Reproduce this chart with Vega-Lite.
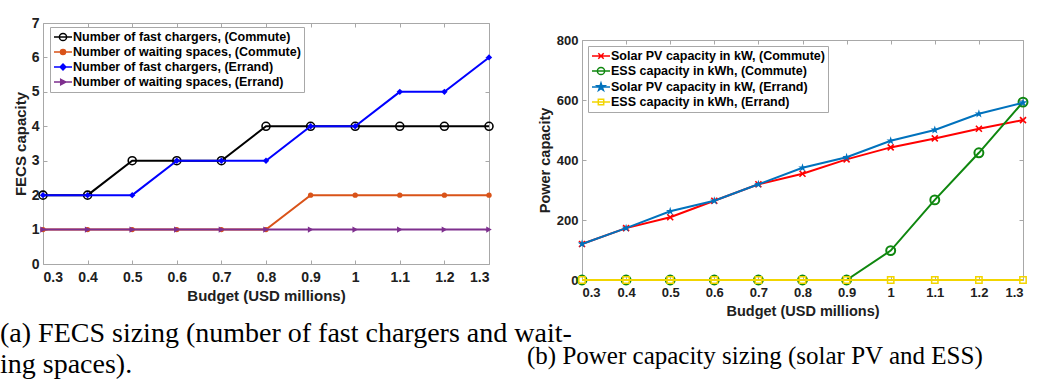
{
  "$schema": "https://vega.github.io/schema/vega-lite/v6.json",
  "background": "white",
  "padding": {"left": 0, "top": 16, "right": 0, "bottom": 0},
  "bounds": "flush",
  "spacing": 93,
  "resolve": {"scale": {"color": "independent"}, "legend": {"color": "independent"}},
  "config": {
    "view": {"stroke": null},
    "axis": {
      "grid": false,
      "domainColor": "#A8A8A8",
      "tickColor": "#A8A8A8",
      "domainWidth": 1,
      "tickWidth": 1,
      "tickSize": -4,
      "labelFont": "Liberation Sans",
      "labelFontWeight": "bold",
      "labelColor": "#202020",
      "titleFont": "Liberation Sans",
      "titleFontWeight": "bold",
      "titleColor": "#202020"
    },
    "legend": {
      "orient": "none",
      "labelFont": "Liberation Sans",
      "labelFontSize": 12.5,
      "labelFontWeight": "bold",
      "labelColor": "#000000",
      "labelLimit": 0,
      "strokeColor": "#A8A8A8",
      "fillColor": "white",
      "padding": 3,
      "rowPadding": 1,
      "symbolSize": 144,
      "symbolOffset": 3,
      "symbolStrokeWidth": 1.5,
      "labelOffset": 3,
      "title": null
    }
  },
  "hconcat": [
    {
      "width": 446,
      "height": 241,
      "title": {
        "text": ["(a) FECS sizing (number of fast chargers and wait-", "ing spaces)."],
        "orient": "bottom", "anchor": "start", "frame": "group", "dx": -43, "offset": 17,
        "font": "Liberation Serif", "fontSize": 28, "fontWeight": "normal", "lineHeight": 31, "color": "#000000", "baseline": "top"
      },
      "data": {"values": [
        {"b": 0.3, "v": 2, "s": "Number of fast chargers, (Commute)"},
        {"b": 0.4, "v": 2, "s": "Number of fast chargers, (Commute)"},
        {"b": 0.5, "v": 3, "s": "Number of fast chargers, (Commute)"},
        {"b": 0.6, "v": 3, "s": "Number of fast chargers, (Commute)"},
        {"b": 0.7, "v": 3, "s": "Number of fast chargers, (Commute)"},
        {"b": 0.8, "v": 4, "s": "Number of fast chargers, (Commute)"},
        {"b": 0.9, "v": 4, "s": "Number of fast chargers, (Commute)"},
        {"b": 1.0, "v": 4, "s": "Number of fast chargers, (Commute)"},
        {"b": 1.1, "v": 4, "s": "Number of fast chargers, (Commute)"},
        {"b": 1.2, "v": 4, "s": "Number of fast chargers, (Commute)"},
        {"b": 1.3, "v": 4, "s": "Number of fast chargers, (Commute)"},
        {"b": 0.3, "v": 1, "s": "Number of waiting spaces, (Commute)"},
        {"b": 0.4, "v": 1, "s": "Number of waiting spaces, (Commute)"},
        {"b": 0.5, "v": 1, "s": "Number of waiting spaces, (Commute)"},
        {"b": 0.6, "v": 1, "s": "Number of waiting spaces, (Commute)"},
        {"b": 0.7, "v": 1, "s": "Number of waiting spaces, (Commute)"},
        {"b": 0.8, "v": 1, "s": "Number of waiting spaces, (Commute)"},
        {"b": 0.9, "v": 2, "s": "Number of waiting spaces, (Commute)"},
        {"b": 1.0, "v": 2, "s": "Number of waiting spaces, (Commute)"},
        {"b": 1.1, "v": 2, "s": "Number of waiting spaces, (Commute)"},
        {"b": 1.2, "v": 2, "s": "Number of waiting spaces, (Commute)"},
        {"b": 1.3, "v": 2, "s": "Number of waiting spaces, (Commute)"},
        {"b": 0.3, "v": 2, "s": "Number of fast chargers, (Errand)"},
        {"b": 0.4, "v": 2, "s": "Number of fast chargers, (Errand)"},
        {"b": 0.5, "v": 2, "s": "Number of fast chargers, (Errand)"},
        {"b": 0.6, "v": 3, "s": "Number of fast chargers, (Errand)"},
        {"b": 0.7, "v": 3, "s": "Number of fast chargers, (Errand)"},
        {"b": 0.8, "v": 3, "s": "Number of fast chargers, (Errand)"},
        {"b": 0.9, "v": 4, "s": "Number of fast chargers, (Errand)"},
        {"b": 1.0, "v": 4, "s": "Number of fast chargers, (Errand)"},
        {"b": 1.1, "v": 5, "s": "Number of fast chargers, (Errand)"},
        {"b": 1.2, "v": 5, "s": "Number of fast chargers, (Errand)"},
        {"b": 1.3, "v": 6, "s": "Number of fast chargers, (Errand)"},
        {"b": 0.3, "v": 1, "s": "Number of waiting spaces, (Errand)"},
        {"b": 0.4, "v": 1, "s": "Number of waiting spaces, (Errand)"},
        {"b": 0.5, "v": 1, "s": "Number of waiting spaces, (Errand)"},
        {"b": 0.6, "v": 1, "s": "Number of waiting spaces, (Errand)"},
        {"b": 0.7, "v": 1, "s": "Number of waiting spaces, (Errand)"},
        {"b": 0.8, "v": 1, "s": "Number of waiting spaces, (Errand)"},
        {"b": 0.9, "v": 1, "s": "Number of waiting spaces, (Errand)"},
        {"b": 1.0, "v": 1, "s": "Number of waiting spaces, (Errand)"},
        {"b": 1.1, "v": 1, "s": "Number of waiting spaces, (Errand)"},
        {"b": 1.2, "v": 1, "s": "Number of waiting spaces, (Errand)"},
        {"b": 1.3, "v": 1, "s": "Number of waiting spaces, (Errand)"}
      ]},
      "layer": [
        {
          "transform": [{"filter": "datum.s === 'Number of fast chargers, (Commute)'"}],
          "mark": {"type": "line", "strokeWidth": 2},
          "encoding": {
            "x": {"field": "b", "type": "quantitative", "scale": {"domain": [0.3, 1.3], "nice": false, "zero": false},
              "axis": {"orient": "bottom", "values": [0.3, 0.4, 0.5, 0.6, 0.7, 0.8, 0.9, 1.0, 1.1, 1.2, 1.3], "format": "~g", "title": "Budget (USD millions)", "labelFontSize": 14, "titleFontSize": 15, "labelPadding": 10, "titlePadding": 4}},
            "y": {"field": "v", "type": "quantitative", "scale": {"domain": [0, 7], "nice": false},
              "axis": {"orient": "left", "values": [0, 1, 2, 3, 4, 5, 6, 7], "format": "d", "title": "FECS capacity", "labelFontSize": 14, "titleFontSize": 15, "labelPadding": 8, "titlePadding": 3}},
            "color": {"field": "s", "type": "nominal",
              "scale": {"domain": ["Number of fast chargers, (Commute)", "Number of waiting spaces, (Commute)", "Number of fast chargers, (Errand)", "Number of waiting spaces, (Errand)"], "range": ["#000000", "#D95319", "#0000FF", "#7E2F8E"]},
              "legend": {"legendX": 7, "legendY": 4,
                "encode": {"symbols": {"update": {
                  "shape": {"signal": "datum.value === 'Number of fast chargers, (Commute)' ? 'M-1.5,0H1.5M0.6,0A0.6,0.6 0 1,1 -0.6,0A0.6,0.6 0 1,1 0.6,0' : datum.value === 'Number of waiting spaces, (Commute)' ? 'M-1.5,0H1.5M0.42,0A0.42,0.42 0 1,1 -0.42,0A0.42,0.42 0 1,1 0.42,0' : datum.value === 'Number of fast chargers, (Errand)' ? 'M-1.5,0H1.5M0,-0.48L0.48,0L0,0.48L-0.48,0Z' : 'M-1.5,0H1.5M-0.38,-0.45L0.48,0L-0.38,0.45Z'"},
                  "fill": {"signal": "datum.value === 'Number of fast chargers, (Commute)' ? 'transparent' : datum.value === 'Number of waiting spaces, (Commute)' ? '#D95319' : datum.value === 'Number of fast chargers, (Errand)' ? '#0000FF' : '#7E2F8E'"}
                }}}}}
          }
        },
        {
          "transform": [{"filter": "datum.s === 'Number of fast chargers, (Commute)'"}],
          "mark": {"type": "point", "shape": "circle", "size": 64, "filled": false, "color": "#000000", "strokeWidth": 1.6, "opacity": 1},
          "encoding": {
            "x": {"field": "b", "type": "quantitative", "axis": {"orient": "top", "labels": false, "title": null, "values": [0.3, 0.4, 0.5, 0.6, 0.7, 0.8, 0.9, 1.0, 1.1, 1.2, 1.3]}},
            "y": {"field": "v", "type": "quantitative", "axis": {"orient": "right", "labels": false, "title": null, "values": [0, 1, 2, 3, 4, 5, 6, 7]}}
          }
        },
        {
          "transform": [{"filter": "datum.s === 'Number of waiting spaces, (Commute)'"}],
          "mark": {"type": "line", "strokeWidth": 2},
          "encoding": {
            "x": {"field": "b", "type": "quantitative", "axis": null},
            "y": {"field": "v", "type": "quantitative", "axis": null},
            "color": {"field": "s", "type": "nominal"}
          }
        },
        {
          "transform": [{"filter": "datum.s === 'Number of waiting spaces, (Commute)'"}],
          "mark": {"type": "point", "shape": "circle", "size": 28, "filled": true, "color": "#D95319", "opacity": 1},
          "encoding": {
            "x": {"field": "b", "type": "quantitative", "axis": null},
            "y": {"field": "v", "type": "quantitative", "axis": null}
          }
        },
        {
          "transform": [{"filter": "datum.s === 'Number of fast chargers, (Errand)'"}],
          "mark": {"type": "line", "strokeWidth": 2},
          "encoding": {
            "x": {"field": "b", "type": "quantitative", "axis": null},
            "y": {"field": "v", "type": "quantitative", "axis": null},
            "color": {"field": "s", "type": "nominal"}
          }
        },
        {
          "transform": [{"filter": "datum.s === 'Number of fast chargers, (Errand)'"}],
          "mark": {"type": "point", "shape": "diamond", "size": 40, "filled": true, "color": "#0000FF", "opacity": 1},
          "encoding": {
            "x": {"field": "b", "type": "quantitative", "axis": null},
            "y": {"field": "v", "type": "quantitative", "axis": null}
          }
        },
        {
          "transform": [{"filter": "datum.s === 'Number of waiting spaces, (Errand)'"}],
          "mark": {"type": "line", "strokeWidth": 2},
          "encoding": {
            "x": {"field": "b", "type": "quantitative", "axis": null},
            "y": {"field": "v", "type": "quantitative", "axis": null},
            "color": {"field": "s", "type": "nominal"}
          }
        },
        {
          "transform": [{"filter": "datum.s === 'Number of waiting spaces, (Errand)'"}],
          "mark": {"type": "point", "shape": "triangle-right", "size": 40, "filled": true, "color": "#7E2F8E", "opacity": 1},
          "encoding": {
            "x": {"field": "b", "type": "quantitative", "axis": null},
            "y": {"field": "v", "type": "quantitative", "axis": null}
          }
        }
      ]
    },
    {
      "width": 441,
      "height": 257,
      "title": {
        "text": "(b) Power capacity sizing (solar PV and ESS)",
        "orient": "bottom", "anchor": "start", "frame": "group", "dx": -55, "offset": 26,
        "font": "Liberation Serif", "fontSize": 25, "fontWeight": "normal", "color": "#000000", "baseline": "top"
      },
      "data": {"values": [
        {"b": 0.3, "v": 120, "s": "Solar PV capacity in kW, (Commute)"},
        {"b": 0.4, "v": 173, "s": "Solar PV capacity in kW, (Commute)"},
        {"b": 0.5, "v": 209, "s": "Solar PV capacity in kW, (Commute)"},
        {"b": 0.6, "v": 264, "s": "Solar PV capacity in kW, (Commute)"},
        {"b": 0.7, "v": 319, "s": "Solar PV capacity in kW, (Commute)"},
        {"b": 0.8, "v": 354, "s": "Solar PV capacity in kW, (Commute)"},
        {"b": 0.9, "v": 402, "s": "Solar PV capacity in kW, (Commute)"},
        {"b": 1.0, "v": 442, "s": "Solar PV capacity in kW, (Commute)"},
        {"b": 1.1, "v": 472, "s": "Solar PV capacity in kW, (Commute)"},
        {"b": 1.2, "v": 504, "s": "Solar PV capacity in kW, (Commute)"},
        {"b": 1.3, "v": 533, "s": "Solar PV capacity in kW, (Commute)"},
        {"b": 0.3, "v": 0, "s": "ESS capacity in kWh, (Commute)"},
        {"b": 0.4, "v": 0, "s": "ESS capacity in kWh, (Commute)"},
        {"b": 0.5, "v": 0, "s": "ESS capacity in kWh, (Commute)"},
        {"b": 0.6, "v": 0, "s": "ESS capacity in kWh, (Commute)"},
        {"b": 0.7, "v": 0, "s": "ESS capacity in kWh, (Commute)"},
        {"b": 0.8, "v": 0, "s": "ESS capacity in kWh, (Commute)"},
        {"b": 0.9, "v": 0, "s": "ESS capacity in kWh, (Commute)"},
        {"b": 1.0, "v": 98, "s": "ESS capacity in kWh, (Commute)"},
        {"b": 1.1, "v": 267, "s": "ESS capacity in kWh, (Commute)"},
        {"b": 1.2, "v": 424, "s": "ESS capacity in kWh, (Commute)"},
        {"b": 1.3, "v": 593, "s": "ESS capacity in kWh, (Commute)"},
        {"b": 0.3, "v": 120, "s": "Solar PV capacity in kW, (Errand)"},
        {"b": 0.4, "v": 173, "s": "Solar PV capacity in kW, (Errand)"},
        {"b": 0.5, "v": 229, "s": "Solar PV capacity in kW, (Errand)"},
        {"b": 0.6, "v": 264, "s": "Solar PV capacity in kW, (Errand)"},
        {"b": 0.7, "v": 319, "s": "Solar PV capacity in kW, (Errand)"},
        {"b": 0.8, "v": 374, "s": "Solar PV capacity in kW, (Errand)"},
        {"b": 0.9, "v": 409, "s": "Solar PV capacity in kW, (Errand)"},
        {"b": 1.0, "v": 464, "s": "Solar PV capacity in kW, (Errand)"},
        {"b": 1.1, "v": 500, "s": "Solar PV capacity in kW, (Errand)"},
        {"b": 1.2, "v": 554, "s": "Solar PV capacity in kW, (Errand)"},
        {"b": 1.3, "v": 591, "s": "Solar PV capacity in kW, (Errand)"},
        {"b": 0.3, "v": 0, "s": "ESS capacity in kWh, (Errand)"},
        {"b": 0.4, "v": 0, "s": "ESS capacity in kWh, (Errand)"},
        {"b": 0.5, "v": 0, "s": "ESS capacity in kWh, (Errand)"},
        {"b": 0.6, "v": 0, "s": "ESS capacity in kWh, (Errand)"},
        {"b": 0.7, "v": 0, "s": "ESS capacity in kWh, (Errand)"},
        {"b": 0.8, "v": 0, "s": "ESS capacity in kWh, (Errand)"},
        {"b": 0.9, "v": 0, "s": "ESS capacity in kWh, (Errand)"},
        {"b": 1.0, "v": 0, "s": "ESS capacity in kWh, (Errand)"},
        {"b": 1.1, "v": 0, "s": "ESS capacity in kWh, (Errand)"},
        {"b": 1.2, "v": 0, "s": "ESS capacity in kWh, (Errand)"},
        {"b": 1.3, "v": 0, "s": "ESS capacity in kWh, (Errand)"}
      ]},
      "layer": [
        {
          "transform": [{"filter": "datum.s === 'Solar PV capacity in kW, (Commute)'"}],
          "mark": {"type": "line", "strokeWidth": 2},
          "encoding": {
            "x": {"field": "b", "type": "quantitative", "scale": {"domain": [0.3, 1.3], "nice": false, "zero": false},
              "axis": {"orient": "bottom", "values": [0.3, 0.4, 0.5, 0.6, 0.7, 0.8, 0.9, 1.0, 1.1, 1.2, 1.3], "format": "~g", "title": "Budget (USD millions)", "labelFontSize": 13, "titleFontSize": 14.5, "labelPadding": 10, "titlePadding": 5}},
            "y": {"field": "v", "type": "quantitative", "scale": {"domain": [0, 800], "nice": false, "range": [257, 17]},
              "axis": {"orient": "left", "values": [0, 200, 400, 600, 800], "format": "d", "title": "Power capacity", "labelFontSize": 13, "titleFontSize": 14.5, "labelPadding": 8, "titlePadding": 4}},
            "color": {"field": "s", "type": "nominal",
              "scale": {"domain": ["Solar PV capacity in kW, (Commute)", "ESS capacity in kWh, (Commute)", "Solar PV capacity in kW, (Errand)", "ESS capacity in kWh, (Errand)"], "range": ["#FF0000", "#0F870F", "#0072BD", "#F2D500"]},
              "legend": {"legendX": 6, "legendY": 23,
                "encode": {"symbols": {"update": {
                  "shape": {"signal": "datum.value === 'Solar PV capacity in kW, (Commute)' ? 'M-1.5,0H1.5M-0.45,-0.45L0.45,0.45M-0.45,0.45L0.45,-0.45' : datum.value === 'ESS capacity in kWh, (Commute)' ? 'M-1.5,0H1.5M0.6,0A0.6,0.6 0 1,1 -0.6,0A0.6,0.6 0 1,1 0.6,0' : datum.value === 'Solar PV capacity in kW, (Errand)' ? 'M-1.5,0H1.5M0,-0.68L0.15,-0.21L0.65,-0.21L0.24,0.08L0.4,0.55L0,0.26L-0.4,0.55L-0.24,0.08L-0.65,-0.21L-0.15,-0.21Z' : 'M-1.5,0H1.5M-0.45,-0.45H0.45V0.45H-0.45Z'"},
                  "fill": {"signal": "datum.value === 'Solar PV capacity in kW, (Errand)' ? '#0072BD' : 'transparent'"}
                }}}}}
          }
        },
        {
          "transform": [{"filter": "datum.s === 'Solar PV capacity in kW, (Commute)'"}],
          "mark": {"type": "point", "shape": "M-1,-1L1,1M-1,1L1,-1", "size": 36, "filled": false, "color": "#FF0000", "strokeWidth": 1.6, "opacity": 1},
          "encoding": {
            "x": {"field": "b", "type": "quantitative", "axis": {"orient": "top", "labels": false, "title": null, "offset": -17, "values": [0.3, 0.4, 0.5, 0.6, 0.7, 0.8, 0.9, 1.0, 1.1, 1.2, 1.3]}},
            "y": {"field": "v", "type": "quantitative", "axis": {"orient": "right", "labels": false, "title": null, "values": [0, 200, 400, 600, 800]}}
          }
        },
        {
          "transform": [{"filter": "datum.s === 'ESS capacity in kWh, (Commute)'"}],
          "mark": {"type": "line", "strokeWidth": 2},
          "encoding": {
            "x": {"field": "b", "type": "quantitative", "axis": null},
            "y": {"field": "v", "type": "quantitative", "axis": null},
            "color": {"field": "s", "type": "nominal"}
          }
        },
        {
          "transform": [{"filter": "datum.s === 'ESS capacity in kWh, (Commute)'"}],
          "mark": {"type": "point", "shape": "circle", "size": 80, "filled": false, "color": "#0F870F", "strokeWidth": 2, "opacity": 1},
          "encoding": {
            "x": {"field": "b", "type": "quantitative", "axis": null},
            "y": {"field": "v", "type": "quantitative", "axis": null}
          }
        },
        {
          "transform": [{"filter": "datum.s === 'Solar PV capacity in kW, (Errand)'"}],
          "mark": {"type": "line", "strokeWidth": 2},
          "encoding": {
            "x": {"field": "b", "type": "quantitative", "axis": null},
            "y": {"field": "v", "type": "quantitative", "axis": null},
            "color": {"field": "s", "type": "nominal"}
          }
        },
        {
          "transform": [{"filter": "datum.s === 'Solar PV capacity in kW, (Errand)'"}],
          "mark": {"type": "point", "shape": "M0,-1L0.2245,-0.309L0.951,-0.309L0.363,0.118L0.588,0.809L0,0.382L-0.588,0.809L-0.363,0.118L-0.951,-0.309L-0.2245,-0.309Z", "size": 80, "filled": true, "color": "#0072BD", "opacity": 1},
          "encoding": {
            "x": {"field": "b", "type": "quantitative", "axis": null},
            "y": {"field": "v", "type": "quantitative", "axis": null}
          }
        },
        {
          "transform": [{"filter": "datum.s === 'ESS capacity in kWh, (Errand)'"}],
          "mark": {"type": "line", "strokeWidth": 2},
          "encoding": {
            "x": {"field": "b", "type": "quantitative", "axis": null},
            "y": {"field": "v", "type": "quantitative", "axis": null},
            "color": {"field": "s", "type": "nominal"}
          }
        },
        {
          "transform": [{"filter": "datum.s === 'ESS capacity in kWh, (Errand)'"}],
          "mark": {"type": "point", "shape": "square", "size": 40, "filled": false, "color": "#F2D500", "strokeWidth": 1.5, "opacity": 1},
          "encoding": {
            "x": {"field": "b", "type": "quantitative", "axis": null},
            "y": {"field": "v", "type": "quantitative", "axis": null}
          }
        }
      ]
    }
  ]
}
